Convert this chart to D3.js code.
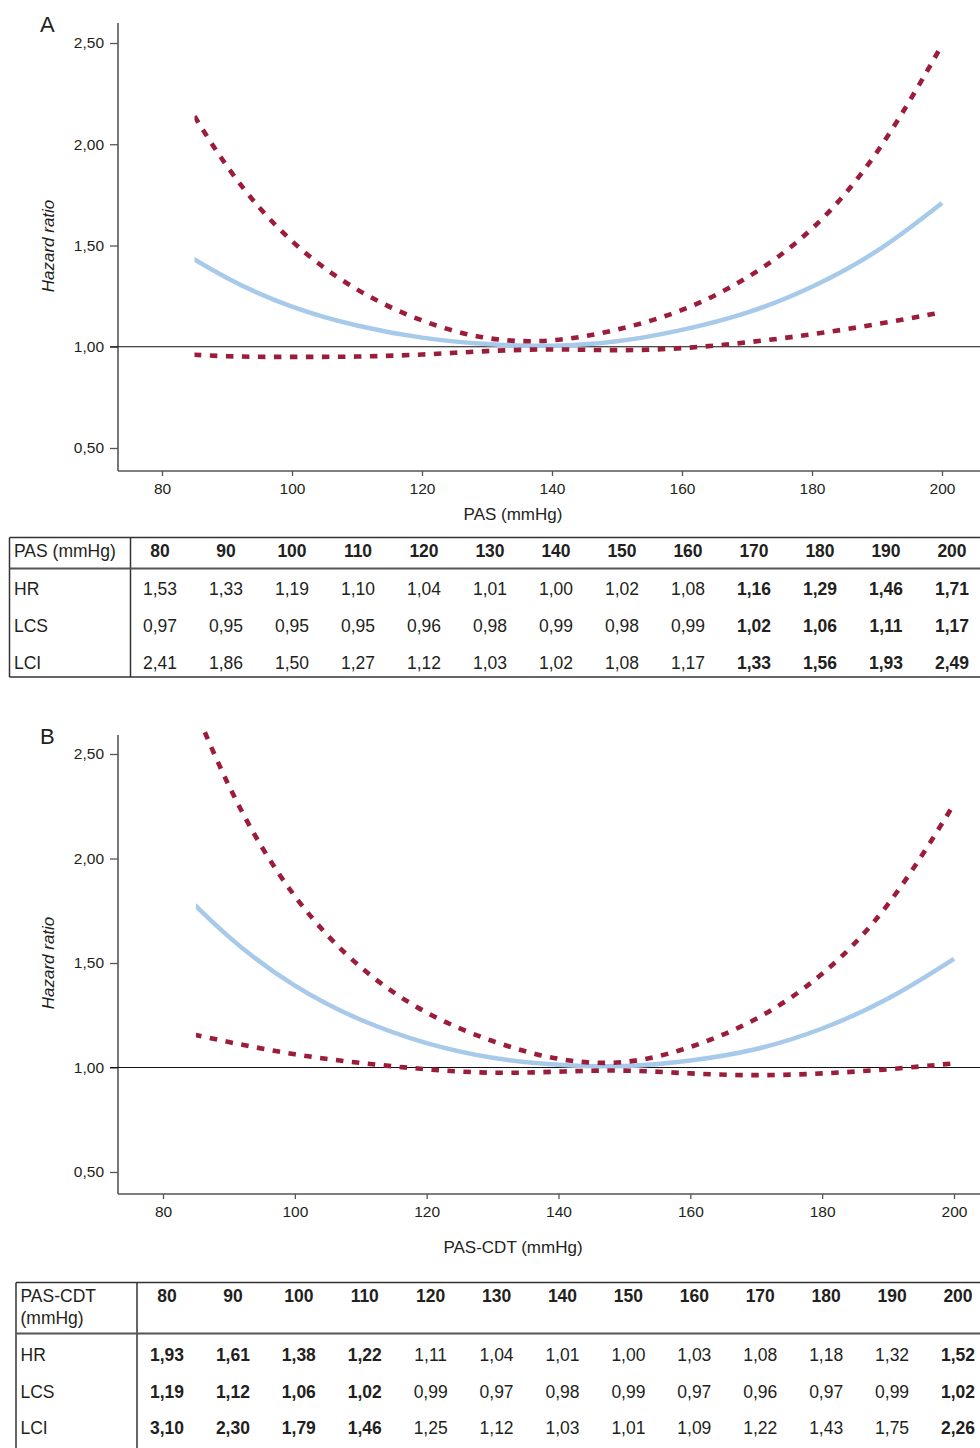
<!DOCTYPE html>
<html>
<head>
<meta charset="utf-8">
<script src="https://cdn.jsdelivr.net/npm/d3@7"></script>
<style>
  body { margin: 0; background: #fff; }
  svg { display: block; font-family: "Liberation Sans", Arial, sans-serif; }
</style>
</head>
<body>
<svg id="chart" width="980" height="1448"></svg>
<script>
// table columns / x values (mmHg)
const pas = [80, 90, 100, 110, 120, 130, 140, 150, 160, 170, 180, 190, 200];
const xTicks = [80, 100, 120, 140, 160, 180, 200];
const yTicks = [0.5, 1.0, 1.5, 2.0, 2.5];

// panel A : PAS
const hrA = [1.53, 1.33, 1.19, 1.10, 1.04, 1.01, 1.00, 1.02, 1.08, 1.16, 1.29, 1.46, 1.71];
const lcsA = [0.97, 0.95, 0.95, 0.95, 0.96, 0.98, 0.99, 0.98, 0.99, 1.02, 1.06, 1.11, 1.17];
const lciA = [2.41, 1.86, 1.50, 1.27, 1.12, 1.03, 1.02, 1.08, 1.17, 1.33, 1.56, 1.93, 2.49];
const boldA = [170, 180, 190, 200];

// panel B : PAS-CDT
const hrB = [1.93, 1.61, 1.38, 1.22, 1.11, 1.04, 1.01, 1.00, 1.03, 1.08, 1.18, 1.32, 1.52];
const lcsB = [1.19, 1.12, 1.06, 1.02, 0.99, 0.97, 0.98, 0.99, 0.97, 0.96, 0.97, 0.99, 1.02];
const lciB = [3.10, 2.30, 1.79, 1.46, 1.25, 1.12, 1.03, 1.01, 1.09, 1.22, 1.43, 1.75, 2.26];
const boldB = [80, 90, 100, 110, 200];

const fmt = d3.formatLocale({decimal: ",", thousands: ".", grouping: [3], currency: ["", "€"]}).format(".2f");

const BLUE = "#a7c9ea";
const RED = "#9c1c3b";
const TXT = "#231f20";
const AX = "#555";

const svg = d3.select("#chart");

const panels = [
  {label: "A", xTitle: "PAS (mmHg)", hr: hrA, lcs: lcsA, lci: lciA,
   xr: [162, 942], yr: [448, 43], axTop: 23, axY: 471, titleY: 520, ytitleY: 246},
  {label: "B", xTitle: "PAS-CDT (mmHg)", hr: hrB, lcs: lcsB, lci: lciB,
   xr: [163, 954], yr: [1172, 754], axTop: 735, axY: 1194, titleY: 1253, ytitleY: 963}
];

panels.forEach((p, i) => {
  const x = d3.scaleLinear().domain([80, 200]).range(p.xr);
  const y = d3.scaleLinear().domain([0.5, 2.5]).range(p.yr);
  const g = svg.append("g");

  // the curves are only drawn from 85 mmHg on
  const cid = "clip" + i;
  svg.append("clipPath").attr("id", cid)
    .append("rect")
    .attr("x", x(85)).attr("y", p.axTop - 6)
    .attr("width", x(200) - x(85) + 3).attr("height", p.axY - p.axTop + 6);

  // axes
  const ya = g.append("g").attr("transform", `translate(118,0)`)
    .call(d3.axisLeft(y).tickValues(yTicks).tickFormat(fmt).tickSize(8).tickPadding(6));
  ya.select(".domain").remove();
  ya.selectAll("line").attr("stroke", AX).attr("stroke-width", 1.3);
  ya.selectAll("text").attr("fill", TXT).style("font-size", "15.5px");

  const xa = g.append("g").attr("transform", `translate(0,${p.axY})`)
    .call(d3.axisBottom(x).tickValues(xTicks).tickFormat(d3.format("d")).tickSize(5).tickPadding(7));
  xa.select(".domain").remove();
  xa.selectAll("line").attr("stroke", AX).attr("stroke-width", 1.3);
  xa.selectAll("text").attr("fill", TXT).style("font-size", "15.5px");

  g.append("line").attr("x1", 118).attr("x2", 118).attr("y1", p.axTop).attr("y2", p.axY)
    .attr("stroke", AX).attr("stroke-width", 1.6);
  g.append("line").attr("x1", 118).attr("x2", 980).attr("y1", p.axY).attr("y2", p.axY)
    .attr("stroke", AX).attr("stroke-width", 1.6);

  // reference line at HR = 1
  g.append("line").attr("x1", 110).attr("x2", 980).attr("y1", y(1)).attr("y2", y(1))
    .attr("stroke", "#111").attr("stroke-width", 1.2);

  const line = d3.line().x((d, k) => x(pas[k])).y(d => y(d)).curve(d3.curveBasis);
  const cg = g.append("g").attr("clip-path", `url(#${cid})`);
  cg.append("path").attr("d", line(p.hr)).attr("fill", "none")
    .attr("stroke", BLUE).attr("stroke-width", 4.5);
  [p.lcs, p.lci].forEach(s => {
    cg.append("path").attr("d", line(s)).attr("fill", "none")
      .attr("stroke", RED).attr("stroke-width", 4.6)
      .attr("stroke-dasharray", "7.5,8.5");
  });

  // labels
  g.append("text").attr("x", 40).attr("y", p.axTop + 9).text(p.label)
    .attr("fill", TXT).style("font-size", "22px");
  g.append("text")
    .attr("transform", `translate(54,${p.ytitleY}) rotate(-90)`)
    .attr("text-anchor", "middle").attr("fill", TXT)
    .style("font-size", "17px").style("font-style", "italic")
    .text("Hazard ratio");
  g.append("text").attr("x", (118 + 908) / 2).attr("y", p.titleY)
    .attr("text-anchor", "middle").attr("fill", TXT).style("font-size", "17px")
    .text(p.xTitle);
});

// ---- tables ----
const tables = [
  {head: ["PAS (mmHg)"], rows: [["HR", hrA], ["LCS", lcsA], ["LCI", lciA]], bold: boldA,
   left: 9.5, sep: 130.5, top: 537.5, hline: 568.5, bottom: 677, colR: [160, 952],
   headY: 550.5, rowY: [589, 626, 663]},
  {head: ["PAS-CDT", "(mmHg)"], rows: [["HR", hrB], ["LCS", lcsB], ["LCI", lciB]], bold: boldB,
   left: 16, sep: 137, top: 1282.5, hline: 1333.5, bottom: null, colR: [167, 958],
   headY: 1296, rowY: [1355, 1392, 1428]}
];

tables.forEach(t => {
  const g = svg.append("g");
  const cx = d3.scalePoint().domain(pas).range(t.colR);
  const bot = t.bottom == null ? 1450 : t.bottom;
  const st = sel => sel.attr("stroke", "#333").attr("stroke-width", 1.5);

  st(g.append("line").attr("x1", t.left).attr("x2", 985).attr("y1", t.top).attr("y2", t.top));
  st(g.append("line").attr("x1", t.left).attr("x2", t.left).attr("y1", t.top).attr("y2", bot));
  st(g.append("line").attr("x1", t.sep).attr("x2", t.sep).attr("y1", t.top).attr("y2", bot));
  g.append("line").attr("x1", t.left).attr("x2", 985).attr("y1", t.hline).attr("y2", t.hline)
    .attr("stroke", "#555").attr("stroke-width", 2);
  if (t.bottom != null) {
    st(g.append("line").attr("x1", t.left).attr("x2", 985).attr("y1", bot).attr("y2", bot));
  }

  g.selectAll(".hl").data(t.head).join("text")
    .attr("x", t.left + 4.5).attr("y", (d, k) => t.headY + 6 + k * 22)
    .attr("fill", TXT).style("font-size", "17.5px").text(d => d);

  g.selectAll(".hc").data(pas).join("text")
    .attr("x", d => cx(d)).attr("y", t.headY + 6)
    .attr("text-anchor", "middle").attr("fill", TXT)
    .style("font-size", "17.5px").style("font-weight", "bold").text(d => d);

  t.rows.forEach(([name, vals], r) => {
    g.append("text").attr("x", t.left + 4.5).attr("y", t.rowY[r] + 6)
      .attr("fill", TXT).style("font-size", "17.5px").text(name);
    g.selectAll(null).data(vals).join("text")
      .attr("x", (d, k) => cx(pas[k])).attr("y", t.rowY[r] + 6)
      .attr("text-anchor", "middle").attr("fill", TXT)
      .style("font-size", "17.5px")
      .style("font-weight", (d, k) => t.bold.includes(pas[k]) ? "bold" : "normal")
      .text(d => fmt(d));
  });
});
</script>
</body>
</html>
